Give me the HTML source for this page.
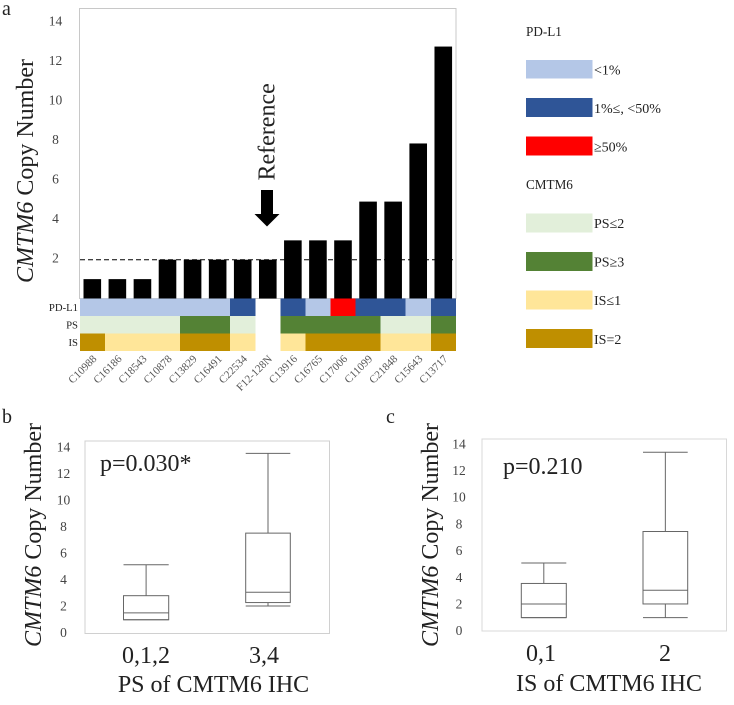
<!DOCTYPE html>
<html>
<head>
<meta charset="utf-8">
<title>CMTM6 Copy Number</title>
<style>
html,body{margin:0;padding:0;background:#fff;}
svg{display:block;font-family:"Liberation Serif",serif;filter:blur(0.3px);}
text{fill:#222;}
.tick{font-size:13.5px;fill:#444;}
.title{font-size:24px;}
.legend{font-size:14px;}
.legend-title{font-size:13.2px;}
</style>
</head>
<body>
<svg id="figure" width="734" height="705" viewBox="0 0 734 705" xmlns="http://www.w3.org/2000/svg">
  <rect width="734" height="705" fill="#fff"/>

  <text x="2" y="15" font-size="20">a</text>
  <text x="2" y="423" font-size="20">b</text>
  <text x="386" y="423" font-size="20">c</text>

  <g id="panel-a">
    <rect x="79.5" y="8.5" width="376.5" height="290" fill="none" stroke="#c8c8c8" stroke-width="1"/>
    <text class="title" transform="translate(33,283) rotate(-90)"><tspan font-style="italic">CMTM6</tspan> Copy Number</text>
  </g>

  <g id="panel-a-marks"></g>

  <g>
    <text transform="translate(274.5,180.5) rotate(-90)" font-size="24">Reference</text>
    <polygon points="261,190 273,190 273,214 279.5,214 267,226.5 254.5,214 261,214" fill="#000"/>
  </g>

  <g>
    <text class="legend-title" x="526" y="36">PD-L1</text>
    <rect x="526" y="60" width="66.5" height="18.5" fill="#b4c7e7"/>
    <text class="legend" x="594" y="74.5">&lt;1%</text>
    <rect x="526" y="98" width="66.5" height="19" fill="#2f5597"/>
    <text class="legend" x="594" y="113">1%≤, &lt;50%</text>
    <rect x="526" y="136.5" width="66.5" height="19" fill="#ff0000"/>
    <text class="legend" x="594" y="151.5">≥50%</text>
    <text class="legend-title" x="526" y="189">CMTM6</text>
    <rect x="526" y="213.5" width="66.5" height="19" fill="#e2efda"/>
    <text class="legend" x="594" y="228">PS≤2</text>
    <rect x="526" y="252" width="66.5" height="19" fill="#548235"/>
    <text class="legend" x="594" y="266.5">PS≥3</text>
    <rect x="526" y="290.5" width="66.5" height="19" fill="#ffe699"/>
    <text class="legend" x="594" y="305">IS≤1</text>
    <rect x="526" y="329" width="66.5" height="19" fill="#bf8f00"/>
    <text class="legend" x="594" y="344">IS=2</text>
  </g>

  <g id="panel-b">
    <rect x="85" y="441" width="244.5" height="192.5" fill="none" stroke="#d0d0d0" stroke-width="1"/>
    <text class="title" transform="translate(41,647) rotate(-90)"><tspan font-style="italic">CMTM6</tspan> Copy Number</text>
    <text x="100" y="471" font-size="24">p=0.030*</text>
    <text x="146" y="663" font-size="24" text-anchor="middle">0,1,2</text>
    <text x="264" y="663" font-size="24" text-anchor="middle">3,4</text>
    <text x="213.5" y="692" font-size="24" text-anchor="middle">PS of CMTM6 IHC</text>
  </g>

  <g id="panel-c">
    <rect x="482" y="439" width="244.5" height="192" fill="none" stroke="#d8d8d8" stroke-width="1"/>
    <text class="title" transform="translate(438,647) rotate(-90)"><tspan font-style="italic">CMTM6</tspan> Copy Number</text>
    <text x="503" y="474" font-size="24">p=0.210</text>
    <text x="541" y="661" font-size="24" text-anchor="middle">0,1</text>
    <text x="665" y="661" font-size="24" text-anchor="middle">2</text>
    <text x="609" y="691" font-size="24" text-anchor="middle">IS of CMTM6 IHC</text>
  </g>
</svg>

<script>
// Panel a data
var samples = ["C10988","C16186","C18543","C10878","C13829","C16491","C22534","F12-128N","C13916","C16765","C17006","C11099","C21848","C15643","C13717"];
var copyNumbers = [1,1,1,2,2,2,2,2,3,3,3,5,5,8,13];
var referenceLevel = 2;
var pdl1Status = ["low","low","low","low","low","low","mid",null,"mid","low","high","mid","mid","low","mid"];
var psStatus = ["low","low","low","low","high","high","low",null,"high","high","high","high","low","low","high"];
var isStatus = ["high","low","low","low","high","high","low",null,"low","high","high","high","low","low","high"];
var rowLabels = ["PD-L1","PS","IS"];
var tickLabels = [0,2,4,6,8,10,12,14];
var panelATickLabels = [2,4,6,8,10,12,14];

// Panel b and c box statistics: [low whisker, q1, median, q3, high whisker]
var psCategories = ["0,1,2","3,4"];
var psBoxLow = [1,1,1.5,2.75,5];
var psBoxHigh = [2,2.25,3,7.3,13.1];
var isCategories = ["0,1","2"];
var isBoxLow = [1,1,2,3.5,5];
var isBoxHigh = [1,2,3,7.3,13.1];

var NS = "http://www.w3.org/2000/svg";

function make(tag, parent, attrs, content) {
  var el = document.createElementNS(NS, tag);
  for (var k in attrs) { el.setAttribute(k, attrs[k]); }
  if (content !== undefined) { el.textContent = content; }
  parent.appendChild(el);
  return el;
}

// Panel a axes
function barX(i) { return 79.8 + i * 25.07; }
function barY(v) { return 298.5 - v * 19.38; }
function tickAY(v) { return 258 - (v - 2) * 19.75; }

var statusColors = {
  pdl1: { low: "#b4c7e7", mid: "#2f5597", high: "#ff0000" },
  ps: { low: "#e2efda", high: "#548235" },
  is: { low: "#ffe699", high: "#bf8f00" }
};

var marks = document.getElementById("panel-a-marks");

panelATickLabels.forEach(function (t) {
  var el = make("text", marks, { x: 55.5, y: tickAY(t) + 4.5, "text-anchor": "middle", "class": "tick" }, t);
  
  
});

copyNumbers.forEach(function (v, i) {
  var bar = make("rect", marks, { x: barX(i) + 3.7, y: barY(v), width: 17.6, height: 298.5 - barY(v), fill: "#000" });
  
  
});

var refLine = make("line", marks, { x1: 80, x2: 453, y1: barY(referenceLevel), y2: barY(referenceLevel), stroke: "#000", "stroke-width": 1, "stroke-dasharray": "5 3" });



function drawRow(values, colors, top, height) {
  values.forEach(function (s, i) {
    if (!s) { return; }
    var cell = make("rect", marks, { x: barX(i), y: top, width: 25.3, height: height, fill: colors[s], "shape-rendering": "crispEdges" });
    
    
  });
}
drawRow(pdl1Status, statusColors.pdl1, 298.5, 17.6);
drawRow(psStatus, statusColors.ps, 316, 17.6);
drawRow(isStatus, statusColors.is, 333.5, 17.7);

rowLabels.forEach(function (label, r) {
  var el = make("text", marks, { x: 78, y: 311 + r * 17.5, "text-anchor": "end", "font-size": 10.7 }, label);
  
  
});

samples.forEach(function (s, i) {
  var px = barX(i) + 12.5 + 5;
  var el = make("text", marks, { transform: "translate(" + px + ",359.5) rotate(-45)", "text-anchor": "end", "font-size": 11, style: "fill:#555" }, s);
  
  
});

// Box plots
function drawBox(parent, stats, left, right, y) {
  var mid = (left + right) / 2;
  var style = { stroke: "#666", "stroke-width": 1, fill: "none" };
  function seg(x1, y1, x2, y2, name) {
    var el = make("line", parent, { x1: x1, y1: y1, x2: x2, y2: y2, stroke: style.stroke, "stroke-width": style["stroke-width"] });
    
    
  }
  seg(mid, y(stats[4]), mid, y(stats[3]), 'upper-whisker');
  seg(left, y(stats[4]), right, y(stats[4]), 'upper-whisker-cap');
  seg(mid, y(stats[1]), mid, y(stats[0]), 'lower-whisker');
  seg(left, y(stats[0]), right, y(stats[0]), 'lower-whisker-cap');
  var box = make("rect", parent, { x: left, y: y(stats[3]), width: right - left, height: y(stats[1]) - y(stats[3]), fill: "none", stroke: style.stroke, "stroke-width": 1 });
  
  
  seg(left, y(stats[2]), right, y(stats[2]), 'median-line');
}

function boxBY(v) { return 633.5 - v * 13.75; }
function tickBY(v) { return 632.7 - v * 13.28; }
function boxCY(v) { return 631.3 - v * 13.67; }
function tickCY(v) { return 630.7 - v * 13.35; }

var panelB = document.getElementById("panel-b");
var panelC = document.getElementById("panel-c");

tickLabels.forEach(function (t) {
  var b = make("text", panelB, { x: 63.5, y: tickBY(t) + 4.5, "text-anchor": "middle", "class": "tick" }, t);
  
  
  var c = make("text", panelC, { x: 459, y: tickCY(t) + 4.5, "text-anchor": "middle", "class": "tick" }, t);
  
  
});

drawBox(panelB, psBoxLow, 123.5, 168.7, boxBY);
drawBox(panelB, psBoxHigh, 245.7, 290.3, boxBY);
drawBox(panelC, isBoxLow, 521.3, 566.3, boxCY);
drawBox(panelC, isBoxHigh, 643, 687.7, boxCY);
</script>
</body>
</html>
